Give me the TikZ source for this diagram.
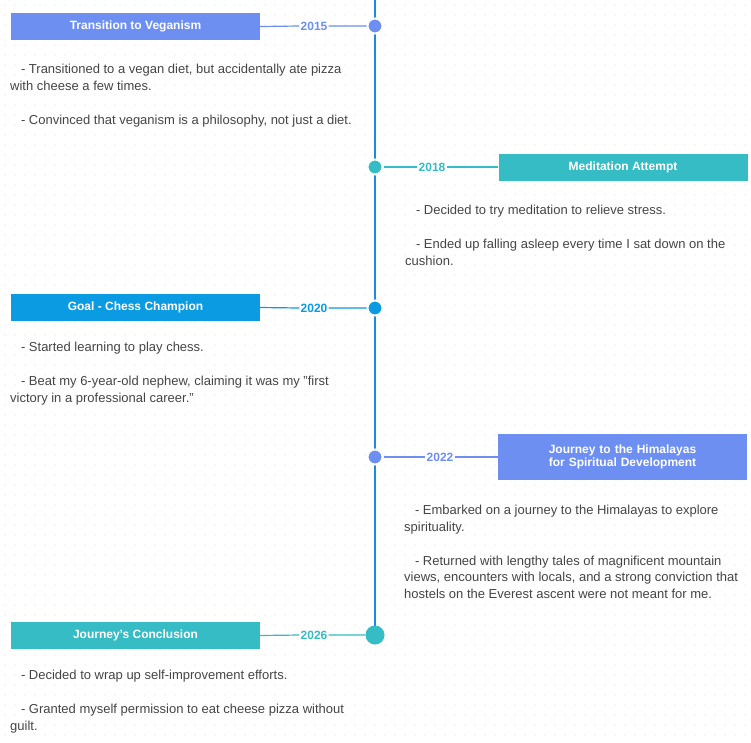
\documentclass[tikz,border=0pt]{standalone}
\usepackage{fontspec}
\setmainfont{Liberation Sans}
\begin{document}
\definecolor{peri}{HTML}{6D8FF2}
\definecolor{teal}{HTML}{35BCC4}
\definecolor{azure}{HTML}{0A9BE3}
\definecolor{axis}{HTML}{1E88E5}
\definecolor{txt}{HTML}{454545}
\definecolor{dot}{HTML}{DADADA}
\begin{tikzpicture}[x=1pt,y=-1pt,
  box/.style={minimum width=249pt,minimum height=27pt,inner sep=2pt,text=white,font=\fontsize{12}{13.5}\selectfont\bfseries,align=center},
  yr/.style={font=\fontsize{12}{14}\selectfont\bfseries,fill=white,inner sep=1pt},
  body/.style={anchor=north west,align=left,text=txt,font=\fontsize{13}{16.8}\selectfont,inner sep=0pt},
  conn/.style={line width=1.2pt}]
\useasboundingbox (0,0) rectangle (751,742);
\fill[white] (0,0) rectangle (751,742);
\foreach \i in {0,...,74}{\foreach \j in {0,...,74}{\fill[dot] (\i*10+5,\j*10+5) circle (0.7pt);}}
% axis
\draw[axis,line width=1.8pt] (375,0) -- (375,635);
% events
\node[circle,fill=peri,draw=white,line width=2pt,minimum size=15pt,inner sep=0] (d1) at (375,26) {};
\node[box,fill=peri] (b1) at (135.5,26.5) {Transition to Veganism};
\node[yr,text=peri] (y1) at (314,26) {2015};
\draw[conn,peri] (b1.east) -- (y1.west) (y1.east) -- (d1.west);
\node[body] (t1) at (10,64) {\ \ \ - Transitioned to a vegan diet, but accidentally ate pizza\\with cheese a few times.\\[16.8pt]\ \ \ - Convinced that veganism is a philosophy, not just a diet.};

\node[circle,fill=teal,draw=white,line width=2pt,minimum size=15pt,inner sep=0] (d2) at (375,167) {};
\node[box,fill=teal] (b2) at (623,167) {Meditation Attempt};
\node[yr,text=teal] (y2) at (432,167) {2018};
\draw[conn,teal] (d2.east) -- (y2.west) (y2.east) -- (b2.west);
\node[body] (t2) at (405,205) {\ \ \ - Decided to try meditation to relieve stress.\\[16.8pt]\ \ \ - Ended up falling asleep every time I sat down on the\\cushion.};

\node[circle,fill=azure,draw=white,line width=2pt,minimum size=15pt,inner sep=0] (d3) at (375,308) {};
\node[box,fill=azure] (b3) at (135.5,307.5) {Goal - Chess Champion};
\node[yr,text=azure] (y3) at (314,308) {2020};
\draw[conn,azure] (b3.east) -- (y3.west) (y3.east) -- (d3.west);
\node[body] (t3) at (10,342) {\ \ \ - Started learning to play chess.\\[16.8pt]\ \ \ - Beat my 6-year-old nephew, claiming it was my "first\\victory in a professional career."};

\node[circle,fill=peri,draw=white,line width=2pt,minimum size=15pt,inner sep=0] (d4) at (375,457) {};
\node[box,fill=peri,minimum height=46pt,text width=240pt] (b4) at (622.5,457) {Journey to the Himalayas for Spiritual Development};
\node[yr,text=peri] (y4) at (440,457) {2022};
\draw[conn,peri] (d4.east) -- (y4.west) (y4.east) -- (b4.west);
\node[body] (t4) at (404,505) {\ \ \ - Embarked on a journey to the Himalayas to explore\\spirituality.\\[16.8pt]\ \ \ - Returned with lengthy tales of magnificent mountain\\views, encounters with locals, and a strong conviction that\\hostels on the Everest ascent were not meant for me.};

\node[circle,fill=teal,minimum size=19pt,inner sep=0] (d5) at (375,635) {};
\node[box,fill=teal] (b5) at (135.5,635.5) {Journey's Conclusion};
\node[yr,text=teal] (y5) at (314,635) {2026};
\draw[conn,teal] (b5.east) -- (y5.west) (y5.east) -- (d5.west);
\node[body] (t5) at (10,670) {\ \ \ - Decided to wrap up self-improvement efforts.\\[16.8pt]\ \ \ - Granted myself permission to eat cheese pizza without\\guilt.};
\end{tikzpicture}
\end{document}
